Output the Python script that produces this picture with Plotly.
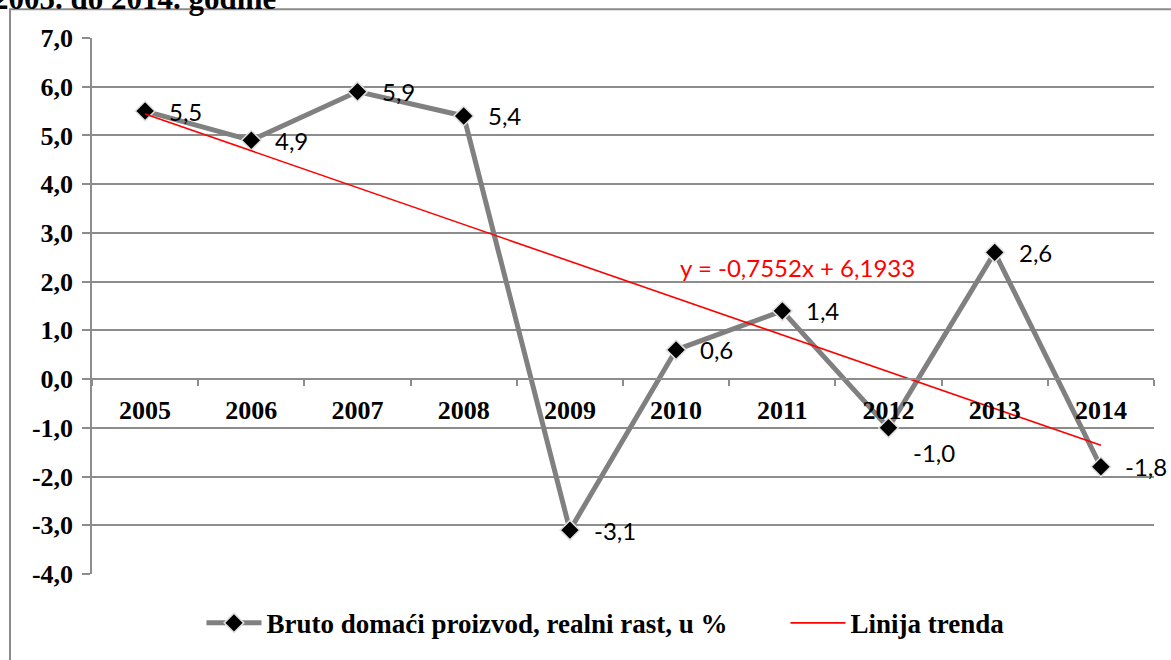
import plotly.graph_objects as go

years = ["2005", "2006", "2007", "2008", "2009", "2010", "2011", "2012", "2013", "2014"]
gdp_growth = [5.5, 4.9, 5.9, 5.4, -3.1, 0.6, 1.4, -1.0, 2.6, -1.8]
trend_years = ["2005", "2014"]
trend_values = [5.44, -1.36]
y_ticks = [-4, -3, -2, -1, 0, 1, 2, 3, 4, 5, 6, 7]
series_name = "Bruto domaći proizvod, realni rast, u %"
trend_name = "Linija trenda"
trend_equation = "y = -0,7552x + 6,1933"
title_fragment = "2005. do 2014. godine"

# label vertical offsets (px), styling only
label_yshift = [0, 0, 0, 0, 0, 0, 0, -25, 0, 0]

GRID = "#8c8c8c"
SERIF = "Liberation Serif"
LABEL_FONT = "Lato"


def fmt(v):
    return f"{v:.1f}".replace(".", ",")


fig = go.Figure()
fig.add_trace(go.Scatter(
    x=years, y=gdp_growth, name=series_name, mode="lines+markers",
    line=dict(color="#808080", width=5),
    marker=dict(symbol="diamond", size=15, color="black",
                line=dict(color="#e0e0e0", width=1.5)),
    legendwidth=514,
))
fig.add_trace(go.Scatter(
    x=trend_years, y=trend_values, name=trend_name, mode="lines",
    line=dict(color="#ff0000", width=1.6),
))

annotations = []
for i, (v, ys) in enumerate(zip(gdp_growth, label_yshift)):
    annotations.append(dict(
        x=i, y=v, xref="x", yref="y", text=fmt(v), showarrow=False,
        xanchor="left", yanchor="middle", xshift=22, yshift=ys,
        font=dict(family=LABEL_FONT, size=24, color="black"),
    ))
annotations.append(dict(
    x=6.14, y=2.29, xref="x", yref="y", text=trend_equation, showarrow=False,
    xanchor="center", yanchor="middle",
    font=dict(family=LABEL_FONT, size=24, color="#ff0000"),
))
annotations.append(dict(
    x=0, y=1, xref="paper", yref="paper", text="<b>" + title_fragment + "</b>",
    showarrow=False, xanchor="left", yanchor="bottom", xshift=-101, yshift=20,
    font=dict(family=SERIF, size=31, color="black"),
))

fig.update_layout(
    width=1171, height=660,
    margin=dict(l=92, r=17, t=38, b=83),
    paper_bgcolor="white", plot_bgcolor="white",
    separators=",.",
    showlegend=True,
    legend=dict(orientation="h", x=0.4835, xanchor="center", y=-0.092, yanchor="middle",
                font=dict(family=SERIF, size=27, color="black", weight="bold"),
                itemwidth=55, traceorder="normal", bgcolor="rgba(0,0,0,0)"),
    annotations=annotations,
    shapes=[dict(type="rect", xref="paper", yref="paper",
                 x0=-0.0772, x1=1.05, y0=-0.3, y1=1.0535,
                 line=dict(color="#8c8c8c", width=2), fillcolor="rgba(0,0,0,0)", layer="below")],
    xaxis=dict(
        type="category", range=[-0.5, 9.5], anchor="free", position=4 / 11,
        showgrid=False, showline=True, linecolor=GRID, linewidth=1.5,
        ticks="outside", ticklen=6, tickcolor=GRID, tickwidth=1.5, tickson="boundaries",
        ticklabelstandoff=8,
        tickfont=dict(family=SERIF, size=26, color="black", weight="bold"),
        zeroline=False,
    ),
    yaxis=dict(
        range=[-4, 7], tickmode="array", tickvals=y_ticks,
        ticktext=[fmt(t) for t in y_ticks],
        showgrid=True, gridcolor=GRID, gridwidth=1.5,
        showline=True, linecolor=GRID, linewidth=1.5,
        ticks="outside", ticklen=8, tickcolor=GRID, tickwidth=1.5,
        ticklabelstandoff=4,
        tickfont=dict(family=SERIF, size=26, color="black", weight="bold"),
        zeroline=False,
    ),
)

fig.write_html("out.html", config={"displayModeBar": False},
               post_script="document.body.style.margin='0';")
